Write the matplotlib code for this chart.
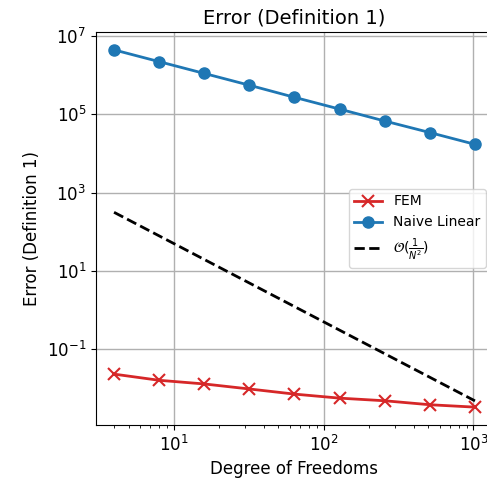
import matplotlib
matplotlib.use("Agg")
import matplotlib.pyplot as plt
import numpy as np

# degrees of freedom
dofs = [4, 8, 16, 32, 64, 128, 256, 512, 1024]
# error values
fem_err = [0.023, 0.016, 0.0129, 0.0096, 0.0071, 0.0056, 0.0048, 0.0038, 0.0033]
naive_err = [4.4e6, 2.2e6, 1.1e6, 5.5e5, 2.7e5, 1.35e5, 6.7e4, 3.4e4, 1.7e4]
ref_order = [312.5, 78.1, 19.5, 4.88, 1.22, 0.305, 0.0763, 0.0191, 0.00477]

fig = plt.figure(figsize=(4.87, 4.8), dpi=100)
ax = fig.add_axes([96 / 487, 55 / 480, 397 / 487, 393 / 480])

ax.loglog(dofs, fem_err, color="tab:red", marker="x", markersize=9, markeredgewidth=1.5,
          linewidth=2, label="FEM")
ax.loglog(dofs, naive_err, color="tab:blue", marker="o", markersize=8, linewidth=2,
          label="Naive Linear")
ax.loglog(dofs, ref_order, color="black", linestyle="--", linewidth=2,
          label=r"$\mathcal{O}(\frac{1}{N^2})$")

ax.grid(True, which="major", color="#b0b0b0", linewidth=1)
ax.tick_params(labelsize=12)
ax.set_xlabel("Degree of Freedoms", fontsize=12)
ax.set_ylabel("Error (Definition 1)", fontsize=12)
ax.set_title("Error (Definition 1)", fontsize=14)
ax.legend(loc="center right", fontsize=10)

fig.savefig("out.png", dpi=100)
